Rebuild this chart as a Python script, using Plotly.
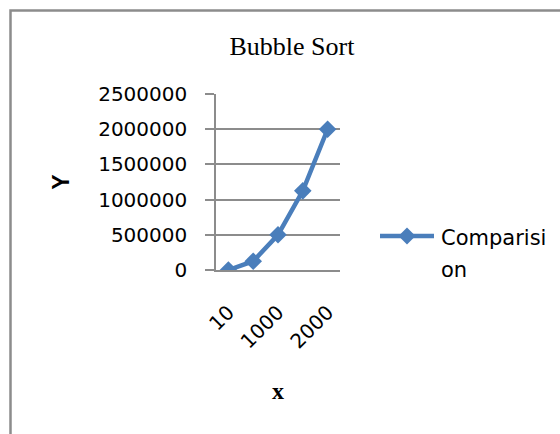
import plotly.graph_objects as go

# Bubble sort: number of comparisons for each input size
sizes = ["10", "500", "1000", "1500", "2000"]
comparisons = [45, 124750, 499500, 1124250, 1999000]
y_tick_values = [0, 500000, 1000000, 1500000, 2000000, 2500000]
x_tick_labels = ["10", "1000", "2000"]
series_name = "Comparision"
chart_title = "Bubble Sort"

W, H = 560, 434
PLOT_L, PLOT_R, PLOT_T, PLOT_B = 216, 340, 94, 270
BLUE = "#4a7ebb"
GRAY = "#8c8c8c"


def px_x(p):
    return (p - PLOT_L) / (PLOT_R - PLOT_L)


def px_y(p):
    return (PLOT_B - p) / (PLOT_B - PLOT_T)


fig = go.Figure()
fig.add_trace(go.Scatter(
    x=sizes, y=comparisons, mode="lines+markers", name=series_name,
    line=dict(color=BLUE, width=4.5),
    marker=dict(symbol="diamond", size=13.5, color=BLUE),
    showlegend=False,
))

# outer chart border (left and top edges show inside the page)
fig.add_shape(type="path", xref="paper", yref="paper",
              path=f"M {px_x(10.5)},{px_y(460)} L {px_x(10.5)},{px_y(10.5)} L {px_x(600)},{px_y(10.5)}",
              line=dict(color=GRAY, width=2.5))

# legend: line sample with diamond, wrapped label
lx0, lx1, ly = 380, 434, 236
fig.add_shape(type="line", xref="paper", yref="paper",
              x0=px_x(lx0), x1=px_x(lx1), y0=px_y(ly), y1=px_y(ly),
              line=dict(color=BLUE, width=4.5))
cx, r = (lx0 + lx1) / 2, 8.5
fig.add_shape(type="path", xref="paper", yref="paper",
              path=(f"M {px_x(cx - r)},{px_y(ly)} L {px_x(cx)},{px_y(ly - r)} "
                    f"L {px_x(cx + r)},{px_y(ly)} L {px_x(cx)},{px_y(ly + r)} Z"),
              fillcolor=BLUE, line=dict(color=BLUE, width=0))
label_lines = [series_name[:9], series_name[9:]]
for i, part in enumerate(label_lines):
    fig.add_annotation(text=part, xref="paper", yref="paper",
                       x=px_x(439), y=px_y(238 + 32 * i),
                       xanchor="left", yanchor="middle", showarrow=False,
                       font=dict(family="DejaVu Sans", size=21, color="black"))

fig.update_layout(
    width=W, height=H,
    margin=dict(l=PLOT_L, r=W - PLOT_R, t=PLOT_T, b=H - PLOT_B, pad=0),
    paper_bgcolor="white", plot_bgcolor="white",
    title=dict(text=chart_title, x=292 / W, y=1 - 46 / H,
               xref="container", yref="container",
               xanchor="center", yanchor="middle",
               font=dict(family="Liberation Serif", size=26, color="black")),
    font=dict(family="DejaVu Sans", size=20, color="black"),
)

fig.update_xaxes(
    type="category", categoryorder="array", categoryarray=sizes,
    range=[-0.5, len(sizes) - 0.5],
    tickmode="array", tickvals=x_tick_labels, ticktext=x_tick_labels,
    tickangle=-45, ticks="", showgrid=False,
    showline=True, linecolor=GRAY, linewidth=1.5,
    ticklabelstandoff=21,
    tickfont=dict(family="DejaVu Sans", size=20, color="black"),
    title=dict(text="<b>x</b>", standoff=30,
               font=dict(family="Liberation Serif", size=24, color="black")),
    automargin=False,
)
fig.update_yaxes(
    range=[0, 2500000], tickmode="array", tickvals=y_tick_values,
    tickformat="d", ticks="outside", ticklen=9, tickcolor=GRAY, tickwidth=1.5,
    showgrid=True, gridcolor=GRAY, gridwidth=1.5, zeroline=False,
    showline=True, linecolor=GRAY, linewidth=1.5,
    ticklabelstandoff=14,
    tickfont=dict(family="DejaVu Sans", size=20, color="black"),
    title=dict(text="<b>Y</b>", standoff=22,
               font=dict(family="Liberation Sans", size=23, color="black")),
    automargin=False,
)

fig.write_html("out.html")
